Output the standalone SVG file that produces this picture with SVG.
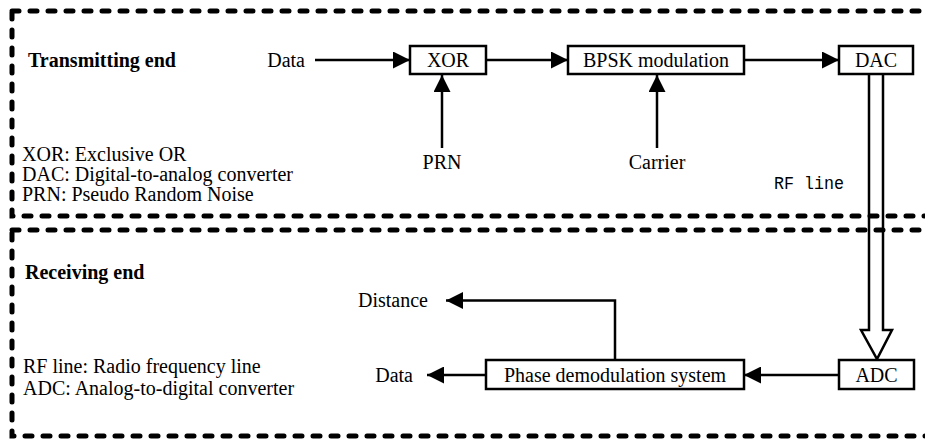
<svg xmlns="http://www.w3.org/2000/svg" width="925" height="441" viewBox="0 0 925 441">
<style>
.t{font-family:"Liberation Serif","Times New Roman",serif;font-size:20px;fill:#000}
.b{font-weight:bold}
.m{font-family:"Liberation Mono","Courier New",monospace;font-size:18px;fill:#000}
.box{fill:#fff;stroke:#000;stroke-width:2.5}
.ln{fill:none;stroke:#000;stroke-width:2.5}
.dash{fill:none;stroke:#000;stroke-width:5;stroke-linecap:round;stroke-dasharray:7 11}
</style>
<defs>
<marker id="ah" markerUnits="userSpaceOnUse" markerWidth="17" markerHeight="17" viewBox="0 0 17 17" refX="17" refY="8.5" orient="auto">
<path d="M0,0 L17,8.5 L0,17 z" fill="#000"/>
</marker>
</defs>
<rect width="925" height="441" fill="#fff"/>
<g id="regions">
<rect class="dash" x="12" y="11" width="960" height="205"/>
<rect class="dash" x="12" y="230" width="960" height="206"/>
</g>
<g id="labels">
<text class="t b" x="28" y="67">Transmitting end</text>
<text class="t" x="22" y="161">XOR: Exclusive OR</text>
<text class="t" x="22" y="181">DAC: Digital-to-analog converter</text>
<text class="t" x="22" y="201">PRN: Pseudo Random Noise</text>
<text class="t b" x="25" y="279">Receiving end</text>
<text class="t" x="23" y="373">RF line: Radio frequency line</text>
<text class="t" x="23" y="395">ADC: Analog-to-digital converter</text>
<text class="t" x="305" y="67" text-anchor="end">Data</text>
<text class="t" x="442" y="169" text-anchor="middle">PRN</text>
<text class="t" x="657" y="169" text-anchor="middle">Carrier</text>
<text class="m" x="774" y="189" textLength="70" lengthAdjust="spacingAndGlyphs">RF line</text>
<text class="t" x="428" y="307" text-anchor="end">Distance</text>
<text class="t" x="413" y="382" text-anchor="end">Data</text>
</g>
<g id="connectors">
<line class="ln" x1="315" y1="60" x2="410" y2="60" marker-end="url(#ah)"/>
<line class="ln" x1="486" y1="60" x2="568" y2="60" marker-end="url(#ah)"/>
<line class="ln" x1="744" y1="60" x2="839" y2="60" marker-end="url(#ah)"/>
<line class="ln" x1="442" y1="148" x2="442" y2="75" marker-end="url(#ah)"/>
<line class="ln" x1="657" y1="148" x2="657" y2="75" marker-end="url(#ah)"/>
<path class="ln" d="M869,74 V330 H861 L877,359 L892,330 H883 V74" stroke-linejoin="miter"/>
<line class="ln" x1="839" y1="375" x2="744" y2="375" marker-end="url(#ah)"/>
<line class="ln" x1="486" y1="375" x2="427" y2="375" marker-end="url(#ah)"/>
<polyline class="ln" points="615,360 615,300.5 446,300.5" marker-end="url(#ah)"/>
</g>
<g id="xor">
<rect class="box" x="410" y="46" width="76" height="28"/>
<text class="t" x="448" y="67" text-anchor="middle">XOR</text>
</g>
<g id="bpsk">
<rect class="box" x="568" y="46" width="176" height="28"/>
<text class="t" x="656" y="67" text-anchor="middle">BPSK modulation</text>
</g>
<g id="dac">
<rect class="box" x="839" y="46" width="74" height="28"/>
<text class="t" x="876" y="67" text-anchor="middle">DAC</text>
</g>
<g id="adc">
<rect class="box" x="839" y="360" width="75" height="29"/>
<text class="t" x="876.5" y="382" text-anchor="middle">ADC</text>
</g>
<g id="phase">
<rect class="box" x="486" y="360" width="258" height="29"/>
<text class="t" x="615" y="382" text-anchor="middle">Phase demodulation system</text>
</g>
</svg>
